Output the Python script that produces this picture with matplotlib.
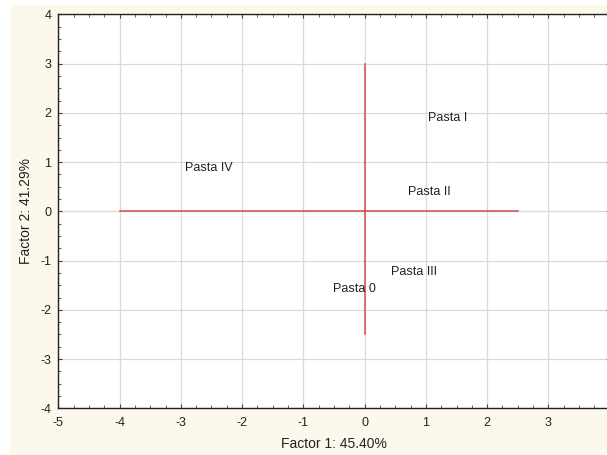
import matplotlib.pyplot as plt
from matplotlib.patches import Rectangle
from matplotlib.ticker import MultipleLocator

# label positions (factor 1, factor 2)
labels = ["Pasta I", "Pasta II", "Pasta III", "Pasta IV", "Pasta 0"]
f1 = [1.35, 1.05, 0.80, -2.55, -0.16]
f2 = [1.89, 0.39, -1.24, 0.88, -1.57]

# red reference axes
hline_x = [-4.0, 2.5]
hline_y = [0.0, 0.0]
vline_x = [0.0, 0.0]
vline_y = [-2.5, 3.0]

plt.rcParams['font.family'] = ['Liberation Sans', 'DejaVu Sans']
plt.rcParams['axes.unicode_minus'] = False

fig = plt.figure(figsize=(6.07, 4.55), dpi=100)
fig.patch.set_facecolor('white')
fig.patches.append(Rectangle((10 / 607, 0), 1, 1 - 5 / 455, transform=fig.transFigure,
                             facecolor='#fcf8ec', edgecolor='none', zorder=-10))

ax = fig.add_axes([58.3 / 607, 46.7 / 455, 551.4 / 607, 393.8 / 455])
ax.set_facecolor('white')

ax.plot(hline_x, hline_y, color='#d24a4a', lw=1.1, zorder=3)
ax.plot(vline_x, vline_y, color='#d24a4a', lw=1.1, zorder=3)

for lab, x, y in zip(labels, f1, f2):
    ax.text(x, y, lab, ha='center', va='center', fontsize=9, color='#222222', zorder=4)

ax.set_xlim(-5, 4)
ax.set_ylim(-4, 4)
ax.xaxis.set_major_locator(MultipleLocator(1))
ax.yaxis.set_major_locator(MultipleLocator(1))
ax.xaxis.set_minor_locator(MultipleLocator(0.25))
ax.yaxis.set_minor_locator(MultipleLocator(0.25))
ax.grid(True, which='major', color='#dadada', lw=0.9)
ax.set_axisbelow(True)

ax.tick_params(which='both', direction='in', top=True, right=True, color='#444444')
ax.tick_params(which='major', length=3, width=0.8, labelsize=9, labelcolor='#222222')
ax.tick_params(which='minor', length=2, width=0.6)
ax.tick_params(axis='x', which='major', pad=6)
ax.tick_params(axis='y', which='major', pad=5)

for s in ax.spines.values():
    s.set_linewidth(1.0)
    s.set_color('#222222')

ax.set_xlabel("Factor 1: 45.40%", fontsize=10, color='#222222', labelpad=6)
ax.set_ylabel("Factor 2: 41.29%", fontsize=10, color='#222222', labelpad=5)

plt.savefig("out.png", dpi=100)
